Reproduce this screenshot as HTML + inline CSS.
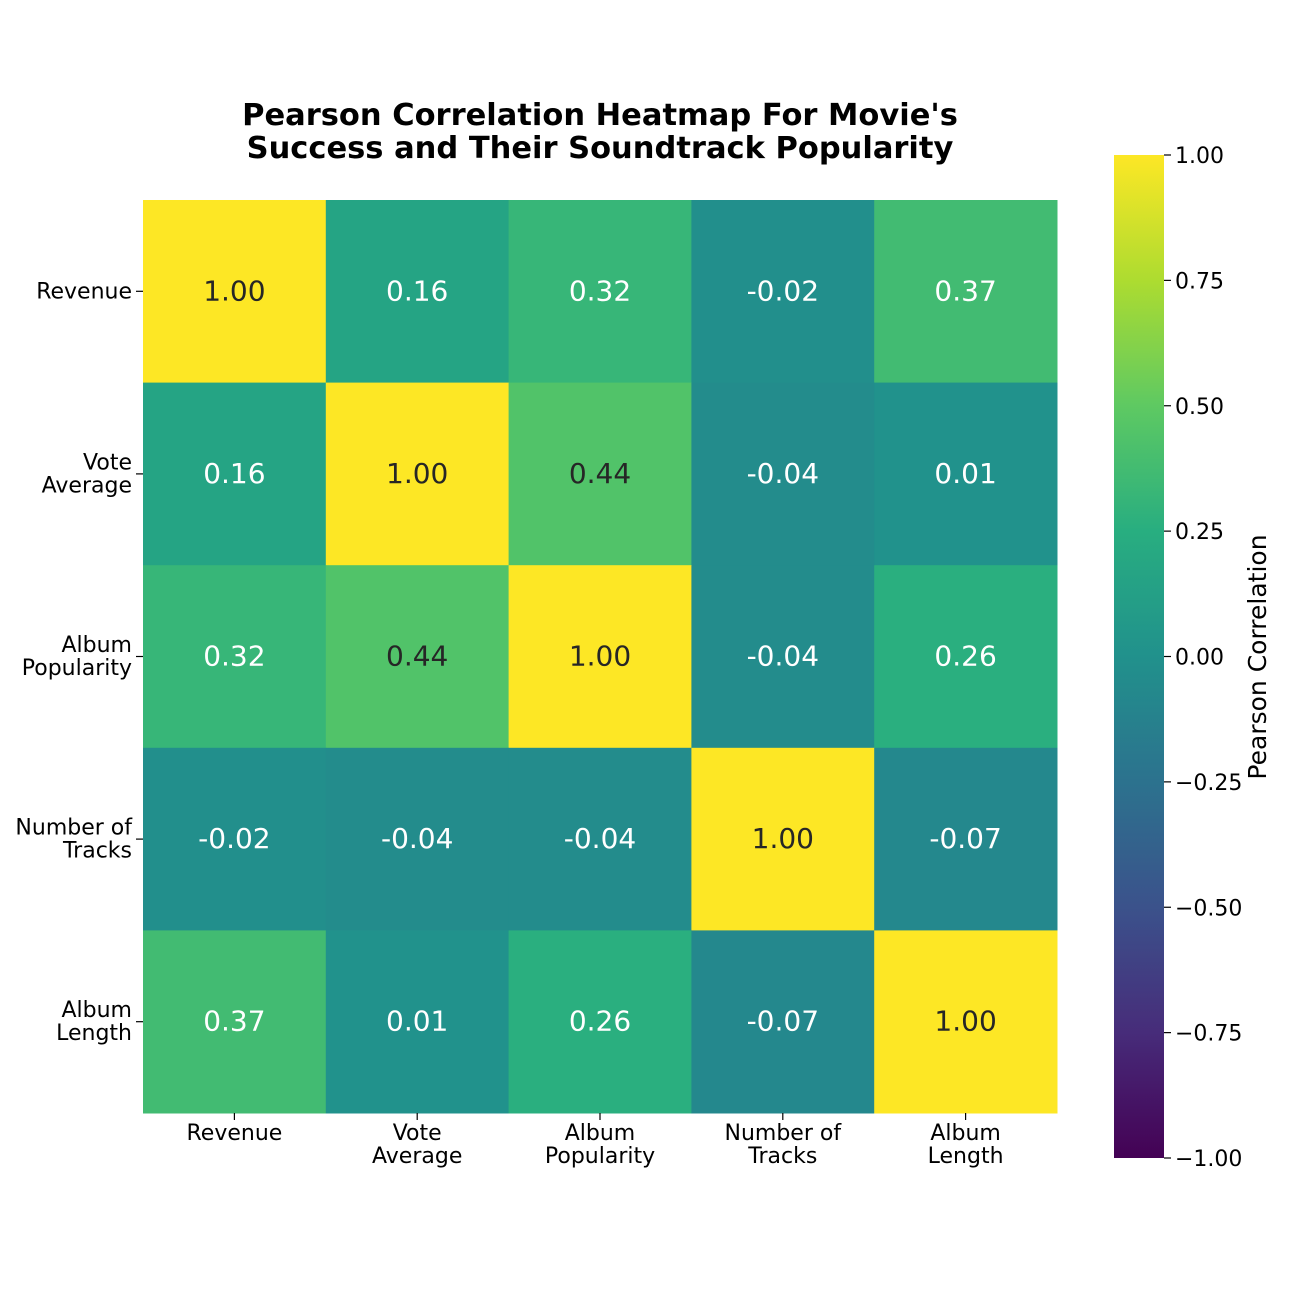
<!DOCTYPE html>
<html><head><meta charset="utf-8"><style>
body{margin:0;background:#fff;}
svg text{font-family:"DejaVu Sans","Liberation Sans",sans-serif;}
</style></head><body>
<svg id="chart" width="1300" height="1300" xmlns="http://www.w3.org/2000/svg">
<rect width="1300" height="1300" fill="#fff"/>
<text x="600" y="125" text-anchor="middle" font-size="30.5" font-weight="bold">Pearson Correlation Heatmap For Movie's</text>
<text x="600" y="158" text-anchor="middle" font-size="30.5" font-weight="bold">Success and Their Soundtrack Popularity</text>
<g id="cells"></g>
<g id="yticks"></g>
<g id="xticks"></g>
<defs><linearGradient id="cbgrad" x1="0" y1="1" x2="0" y2="0"></linearGradient></defs>
<rect x="1114" y="155" width="50" height="1003" fill="url(#cbgrad)"/>
<g id="cbticks"></g>
<text transform="translate(1266,657) rotate(-90)" text-anchor="middle" font-size="25">Pearson Correlation</text>
</svg>
<script>
const categories=[["Revenue"],["Vote","Average"],["Album","Popularity"],["Number of","Tracks"],["Album","Length"]];
const values=[
[1.00,0.16,0.32,-0.02,0.37],
[0.16,1.00,0.44,-0.04,0.01],
[0.32,0.44,1.00,-0.04,0.26],
[-0.02,-0.04,-0.04,1.00,-0.07],
[0.37,0.01,0.26,-0.07,1.00]];
const cbTicks=[1.00,0.75,0.50,0.25,0.00,-0.25,-0.50,-0.75,-1.00];
const vir=["#440154","#472c7a","#3b528b","#2c728e","#21918c","#28ae80","#5ec962","#addc30","#fde725"];
const NS="http://www.w3.org/2000/svg";
function hex(h){return [1,3,5].map(i=>parseInt(h.substr(i,2),16));}
function cmap(v){let t=(v+1)/2;t=Math.max(0,Math.min(1,t));const p=t*(vir.length-1);const i=Math.min(Math.floor(p),vir.length-2);const f=p-i;const a=hex(vir[i]),b=hex(vir[i+1]);return "rgb("+a.map((c,k)=>Math.round(c+(b[k]-c)*f)).join(",")+")";}
const x0=143,x1=1057,y0=200,y1=1113,n=categories.length;
const cw=(x1-x0)/n,ch=(y1-y0)/n;
const xs=i=>x0+i*cw, ys=j=>y0+j*ch;
function mk(tag,attrs,parent){const e=document.createElementNS(NS,tag);for(const k in attrs)e.setAttribute(k,attrs[k]);parent.appendChild(e);return e;}
const cells=document.getElementById('cells');
for(let r=0;r<n;r++)for(let c=0;c<n;c++){
 const v=values[r][c];
 const rc=mk('rect',{x:xs(c),y:ys(r),width:cw+0.5,height:ch+0.5,fill:cmap(v)},cells);
 
 
 const t=mk('text',{x:xs(c)+cw/2,y:ys(r)+ch/2+9,'text-anchor':'middle','font-size':'28',fill:v>0.4?'#262626':'#fff'},cells);
 t.textContent=v.toFixed(2);
 
 
}
const yt=document.getElementById('yticks'),xt=document.getElementById('xticks');
categories.forEach((lines,i)=>{
 const cy=ys(i)+ch/2;
 mk('line',{x1:x0-7,x2:x0,y1:cy,y2:cy,stroke:'#000','stroke-width':1.2},yt);
 lines.forEach((s,k)=>{const t=mk('text',{x:x0-11,y:cy+7-(lines.length-1)*11.5+k*23,'text-anchor':'end','font-size':'22'},yt);t.textContent=s;
 
 });
 const cx=xs(i)+cw/2;
 mk('line',{x1:cx,x2:cx,y1:y1,y2:y1+7,stroke:'#000','stroke-width':1.2},xt);
 lines.forEach((s,k)=>{const t=mk('text',{x:cx,y:y1+27+k*23,'text-anchor':'middle','font-size':'22'},xt);t.textContent=s;
 
 });
});
const g=document.getElementById('cbgrad');
for(let i=0;i<=40;i++){const v=-1+2*i/40;mk('stop',{offset:(i/40),'stop-color':cmap(v)},g);}
const cb=document.getElementById('cbticks');
const cby=v=>155+(1-v)/2*1003;
cbTicks.forEach(v=>{const y=cby(v);
 mk('line',{x1:1164,x2:1171,y1:y,y2:y,stroke:'#000','stroke-width':1.2},cb);
 const t=mk('text',{x:1175,y:y+8,'font-size':'22'},cb);t.textContent=v.toFixed(2).replace('-','\u2212');
 
 });
</script>
</body></html>
